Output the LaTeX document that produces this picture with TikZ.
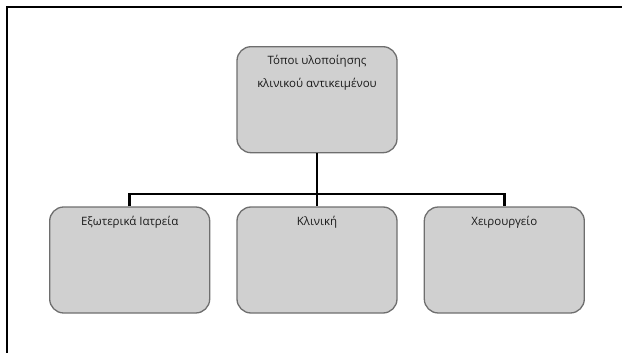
\documentclass[tikz,border=0pt]{standalone}
\usepackage{fontspec}
\setmainfont{Open Sans}
\usepackage{xcolor}
\usetikzlibrary{positioning, calc}

\definecolor{boxfill}{HTML}{D0D0D0}
\definecolor{boxdraw}{HTML}{6E6E6E}
\definecolor{boxtext}{HTML}{1A1A1A}

\begin{document}
\begin{tikzpicture}[
    x=1pt, y=-1pt,
    node distance=53pt and 26pt,
    place/.style={rectangle, draw=boxdraw, fill=boxfill, line width=1.3pt, rounded corners=14pt, minimum width=160pt, minimum height=106pt, inner sep=0pt},
    caption/.style={anchor=north, yshift=-6pt, align=center, text=boxtext, font=\fontsize{11.5}{23}\selectfont},
    link/.style={line width=2.6pt, black}
]
    \useasboundingbox (0,0) rectangle (622,353);
    \draw[line width=2pt] (6.5,353) -- (6.5,7) -- (622,7);

    % Root
    \node (topos) [place, label={[caption]north:Τόποι υλοποίησης\\κλινικού αντικειμένου}] at (317,99.7) {};

    % Children
    \node (kliniki) [place, below=of topos, label={[caption]north:Κλινική}] {};
    \node (iatreia) [place, left=of kliniki, label={[caption]north:Εξωτερικά Ιατρεία}] {};
    \node (xeirourgeio) [place, right=of kliniki, label={[caption]north:Χειρουργείο}] {};

    % Connectors
    \draw [link] (topos.south) -- (kliniki.north);
    \draw [link] (iatreia.north) -- ++(0,-12.5) -| (xeirourgeio.north);
\end{tikzpicture}
\end{document}
